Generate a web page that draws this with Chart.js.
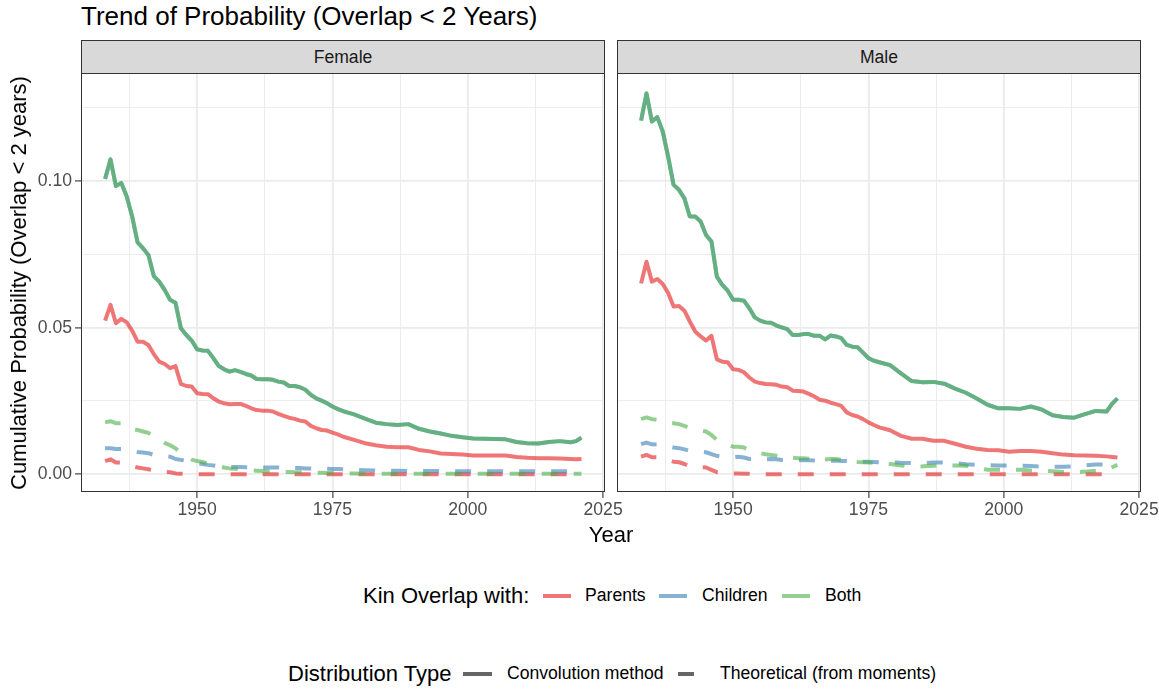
<!DOCTYPE html>
<html>
<head>
<meta charset="utf-8">
<script src="https://cdn.jsdelivr.net/npm/chart.js@4.4.1/dist/chart.umd.min.js"></script>
<style>
  html, body { margin: 0; padding: 0; background: #fff; }
  body { width: 1159px; height: 690px; position: relative; overflow: hidden;
         font-family: "Liberation Sans", Arial, sans-serif; color: #000; }
  .abs { position: absolute; white-space: nowrap; line-height: 1; }
  canvas { position: absolute; }
  .strip { position: absolute; box-sizing: border-box; background: #d9d9d9; border: 1px solid #333;
           top: 40px; height: 34px; font-size: 17.6px; color: #1a1a1a; text-align: center; line-height: 32px; }
  .key { position: absolute; height: 4px; }
</style>
</head>
<body>
<div class="abs" style="left:81px; top:3px; font-size:26px;">Trend of Probability (Overlap &lt; 2 Years)</div>
<div class="strip" style="left:81px; width:524px;">Female</div>
<div class="strip" style="left:617px; width:524px;">Male</div>
<canvas id="female" width="625" height="470" style="left:0; top:73px;"></canvas>
<canvas id="male" width="559" height="470" style="left:600px; top:73px;"></canvas>
<div class="abs" style="left:19px; top:283px; font-size:22px; transform:translate(-50%,-50%) rotate(-90deg);">Cumulative Probability (Overlap &lt; 2 years)</div>
<div class="abs" style="left:611px; top:524px; font-size:22px; transform:translateX(-50%);">Year</div>

<div class="abs" style="left:363px; top:585px; font-size:22px;">Kin Overlap with:</div>
<div class="key" style="left:543px; top:594px; width:28px; background:rgba(228,26,28,0.6);"></div>
<div class="abs" style="left:585px; top:587px; font-size:17.6px;">Parents</div>
<div class="key" style="left:659px; top:594px; width:28px; background:rgba(55,126,184,0.6);"></div>
<div class="abs" style="left:702px; top:587px; font-size:17.6px;">Children</div>
<div class="key" style="left:782px; top:594px; width:28px; background:rgba(77,175,74,0.6);"></div>
<div class="abs" style="left:825px; top:587px; font-size:17.6px;">Both</div>

<div class="abs" style="left:288px; top:663px; font-size:22px;">Distribution Type</div>
<div class="key" style="left:463px; top:672px; width:29px; background:rgba(0,0,0,0.6);"></div>
<div class="abs" style="left:507px; top:665px; font-size:17.6px;">Convolution method</div>
<div class="key" style="left:678px; top:672px; width:16px; background:rgba(0,0,0,0.6);"></div>
<div class="abs" style="left:720px; top:665px; font-size:17.6px;">Theoretical (from moments)</div>

<script>
// birth cohorts (annual to 1977, then every other year)
const years = [
  1933, 1934, 1935, 1936, 1937, 1938, 1939, 1940, 1941, 1942,
  1943, 1944, 1945, 1946, 1947, 1948, 1949, 1950, 1951, 1952,
  1953, 1954, 1955, 1956, 1957, 1958, 1959, 1960, 1961, 1962,
  1963, 1964, 1965, 1966, 1967, 1968, 1969, 1970, 1971, 1972,
  1973, 1974, 1975, 1976, 1977,
  1979, 1981, 1983, 1985, 1987, 1989, 1991, 1993, 1995, 1997, 1999,
  2001, 2003, 2005, 2007, 2009, 2011, 2013, 2015, 2017, 2019, 2020, 2021
];

// ---- Female ----
const femaleParentsConv = [
  .0524, .0578, .0515, .0530, .0518, .0490, .0452, .0452, .0441, .0410,
  .0384, .0376, .0362, .0369, .0308, .0301, .0299, .0276, .0274, .0273,
  .0259, .0248, .0242, .0239, .0240, .0240, .0233, .0225, .0219, .0217,
  .0217, .0214, .0206, .0199, .0193, .0189, .0183, .0180, .0165, .0157,
  .0151, .0149, .0142, .0136, .0128,
  .0117, .0106, .0099, .0094, .0092, .0092, .0083, .0078, .0071, .0069, .0067,
  .0064, .0064, .0064, .0064, .0059, .0056, .0055, .0055, .0054, .0052, .0051, .0052
];
// children line sits exactly under the "both" line in the source
const femaleChildrenConv = [
  .1007, .1074, .0983, .0993, .0947, .0879, .0791, .0771, .0748, .0676,
  .0657, .0629, .0595, .0585, .0498, .0475, .0456, .0426, .0422, .0421,
  .0396, .0369, .0358, .0350, .0355, .0349, .0342, .0337, .0325, .0324,
  .0324, .0322, .0316, .0313, .0301, .0301, .0297, .0288, .0271, .0259,
  .0251, .0242, .0231, .0222, .0215,
  .0204, .0190, .0176, .0171, .0168, .0171, .0155, .0146, .0139, .0131, .0126,
  .0122, .0121, .0120, .0119, .0110, .0106, .0105, .0110, .0113, .0109, .0113, .0125
];
const femaleBothConv = [
  .1007, .1074, .0983, .0993, .0947, .0879, .0791, .0771, .0748, .0676,
  .0657, .0629, .0595, .0585, .0498, .0475, .0456, .0426, .0422, .0421,
  .0396, .0369, .0358, .0350, .0355, .0349, .0342, .0337, .0325, .0324,
  .0324, .0322, .0316, .0313, .0301, .0301, .0297, .0288, .0271, .0259,
  .0251, .0242, .0231, .0222, .0215,
  .0204, .0190, .0176, .0171, .0168, .0171, .0155, .0146, .0139, .0131, .0126,
  .0122, .0121, .0120, .0119, .0110, .0106, .0105, .0110, .0113, .0109, .0113, .0125
];
const femaleParentsTheo = [
  .0045, .0051, .0040, .0040, .0034, .0028, .0023, .0020, .0017, .0013,
  .0010, .0008, .0007, .0003, .0002, .0001, 0, 0, 0, 0,
  0, 0, 0, 0, 0, 0, 0, 0, 0, 0,
  0, 0, 0, 0, 0, 0, 0, 0, 0, 0,
  0, 0, 0, 0, 0,
  0, 0, 0, 0, 0, 0, 0, 0, 0, 0, 0,
  0, 0, 0, 0, 0, 0, 0, 0, 0, 0, 0, 0
];
const femaleChildrenTheo = [
  .0089, .0089, .0086, .0086, .0083, .0080, .0076, .0074, .0072, .0066,
  .0064, .0062, .0060, .0052, .0049, .0045, .0042, .0038, .0035, .0032,
  .0030, .0027, .0026, .0025, .0025, .0025, .0024, .0023, .0023, .0023,
  .0023, .0023, .0023, .0022, .0022, .0021, .0021, .0020, .0020, .0020,
  .0019, .0019, .0018, .0018, .0017,
  .0015, .0014, .0013, .0012, .0012, .0011, .0011, .0011, .0011, .0011, .0010,
  .0010, .0010, .0010, .0010, .0010, .0010, .0010, .0010, .0010, .0011, .0012, .0016
];
const femaleBothTheo = [
  .0177, .0181, .0174, .0174, .0163, .0155, .0151, .0146, .0141, .0129,
  .0118, .0107, .0099, .0089, .0072, .0060, .0050, .0045, .0042, .0036,
  .0031, .0027, .0023, .0020, .0019, .0017, .0015, .0013, .0012, .0011,
  .0010, .0009, .0009, .0008, .0008, .0007, .0007, .0006, .0006, .0005,
  .0005, .0004, .0004, .0004, .0003,
  .0003, .0002, .0002, .0002, .0002, .0002, .0002, .0002, .0002, .0002, .0002,
  .0002, .0002, .0002, .0002, .0002, .0002, .0002, .0002, .0002, .0002, .0002, .0002
];

// ---- Male ----
const maleParentsConv = [
  .0651, .0725, .0657, .0666, .0649, .0618, .0572, .0574, .0558, .0521,
  .0487, .0470, .0456, .0472, .0392, .0384, .0382, .0358, .0356, .0348,
  .0330, .0316, .0311, .0308, .0307, .0305, .0299, .0297, .0285, .0284,
  .0282, .0274, .0265, .0254, .0251, .0244, .0239, .0233, .0211, .0202,
  .0197, .0188, .0177, .0168, .0160,
  .0150, .0131, .0121, .0121, .0114, .0114, .0104, .0094, .0087, .0083, .0082,
  .0077, .0079, .0079, .0077, .0072, .0067, .0065, .0064, .0063, .0061, .0059, .0057
];
const maleChildrenConv = [
  .1206, .1299, .1203, .1218, .1169, .1083, .0987, .0970, .0941, .0879,
  .0879, .0862, .0816, .0794, .0674, .0646, .0626, .0595, .0595, .0592,
  .0566, .0535, .0524, .0518, .0517, .0507, .0501, .0495, .0475, .0475,
  .0478, .0478, .0472, .0472, .0460, .0473, .0470, .0464, .0441, .0435,
  .0433, .0415, .0396, .0387, .0382,
  .0372, .0344, .0318, .0314, .0315, .0309, .0292, .0278, .0258, .0237, .0225,
  .0225, .0223, .0231, .0221, .0201, .0195, .0193, .0205, .0216, .0214, .0240, .0259
];
const maleBothConv = [
  .1206, .1299, .1203, .1218, .1169, .1083, .0987, .0970, .0941, .0879,
  .0879, .0862, .0816, .0794, .0674, .0646, .0626, .0595, .0595, .0592,
  .0566, .0535, .0524, .0518, .0517, .0507, .0501, .0495, .0475, .0475,
  .0478, .0478, .0472, .0472, .0460, .0473, .0470, .0464, .0441, .0435,
  .0433, .0415, .0396, .0387, .0382,
  .0372, .0344, .0318, .0314, .0315, .0309, .0292, .0278, .0258, .0237, .0225,
  .0225, .0223, .0231, .0221, .0201, .0195, .0193, .0205, .0216, .0214, .0240, .0259
];
const maleParentsTheo = [
  .0060, .0066, .0058, .0058, .0054, .0049, .0043, .0041, .0035, .0026,
  .0024, .0024, .0023, .0015, .0007, .0005, .0004, .0003, .0003, .0002,
  .0002, .0001, 0, 0, 0, 0, 0, 0, 0, 0,
  0, 0, 0, 0, 0, 0, 0, 0, 0, 0,
  0, 0, 0, 0, 0,
  0, 0, 0, 0, 0, 0, 0, 0, 0, 0, 0,
  0, 0, 0, 0, 0, 0, 0, 0, 0, 0, 0, 0
];
const maleChildrenTheo = [
  .0103, .0108, .0102, .0101, .0098, .0095, .0091, .0089, .0085, .0080,
  .0078, .0077, .0075, .0069, .0063, .0060, .0059, .0058, .0060, .0057,
  .0052, .0051, .0051, .0051, .0052, .0051, .0049, .0049, .0048, .0048,
  .0049, .0048, .0047, .0046, .0046, .0046, .0047, .0045, .0045, .0043,
  .0043, .0043, .0043, .0042, .0041,
  .0041, .0039, .0038, .0038, .0040, .0040, .0038, .0034, .0032, .0031, .0030,
  .0030, .0029, .0028, .0026, .0026, .0026, .0027, .0030, .0033, .0034, .0036, .0040
];
const maleBothTheo = [
  .0188, .0194, .0188, .0186, .0181, .0177, .0174, .0171, .0165, .0157,
  .0152, .0149, .0146, .0134, .0117, .0108, .0101, .0094, .0094, .0091,
  .0081, .0076, .0072, .0068, .0066, .0063, .0059, .0057, .0056, .0055,
  .0055, .0053, .0050, .0049, .0050, .0052, .0052, .0049, .0046, .0044,
  .0042, .0041, .0040, .0039, .0038,
  .0035, .0030, .0026, .0027, .0029, .0031, .0030, .0029, .0024, .0015, .0015,
  .0015, .0015, .0013, .0012, .0010, .0008, .0007, .0009, .0012, .0017, .0024, .0032
];

// axis ticks (major + minor grid)
const xGrid = [1937.5, 1950, 1962.5, 1975, 1987.5, 2000, 2012.5, 2025];
const yGrid = [0, 0.025, 0.05, 0.075, 0.1, 0.125];

const colors = {
    parents: 'rgba(228,26,28,0.6)',
    children: 'rgba(55,126,184,0.6)',
    both: 'rgba(77,175,74,0.6)'
};
const FONT = '"Liberation Sans", Arial, sans-serif';
Chart.defaults.font.family = FONT;

function lineSet(vals, color, dashed, order) {
    return {
        data: years.map((yr, i) => ({ x: yr, y: vals[i] })),
        borderColor: color,
        borderWidth: 4,
        borderDash: dashed ? [16, 16] : [],
        borderCapStyle: 'butt',
        borderJoinStyle: 'round',
        pointRadius: 0,
        fill: false,
        tension: 0,
        order: order
    };
}

const isMajorX = v => v % 25 === 0;
const isMajorY = v => Math.abs(v * 20 - Math.round(v * 20)) < 1e-6;

const panelBorder = {
    id: 'panelBorder',
    afterDraw(chart) {
        const a = chart.chartArea, c = chart.ctx;
        c.save();
        c.strokeStyle = '#333333';
        c.lineWidth = 1;
        c.strokeRect(a.left + 0.5, a.top + 0.5, a.right - a.left - 1, a.bottom - a.top - 1);
        c.restore();
    }
};

function makePanel(id, d, showY, yWidth, padRight) {
    new Chart(document.getElementById(id), {
        type: 'line',
        data: {
            datasets: [
                lineSet(d.parentsTheo, colors.parents, true, 6),
                lineSet(d.childrenTheo, colors.children, true, 5),
                lineSet(d.bothTheo, colors.both, true, 4),
                lineSet(d.parentsConv, colors.parents, false, 3),
                lineSet(d.childrenConv, colors.children, false, 2),
                lineSet(d.bothConv, colors.both, false, 1)
            ]
        },
        options: {
            responsive: false,
            animation: false,
            devicePixelRatio: 1,
            layout: { padding: { left: 0, right: padRight, top: 0, bottom: 0 } },
            plugins: { legend: { display: false }, tooltip: { enabled: false } },
            scales: {
                x: {
                    type: 'linear',
                    min: 1928.55,
                    max: 2025.35,
                    afterBuildTicks: s => { s.ticks = xGrid.map(v => ({ value: v })); },
                    afterFit: s => {
                        s.height = 51;
                        s.paddingLeft = 0; s.paddingRight = 0;
                        s.paddingTop = 0; s.paddingBottom = 0;
                    },
                    ticks: {
                        autoSkip: false,
                        maxRotation: 0,
                        padding: 2,
                        color: '#4d4d4d',
                        font: { size: 17.6 },
                        callback: v => isMajorX(v) ? String(v) : ''
                    },
                    grid: {
                        color: '#ebebeb',
                        lineWidth: c => (c.tick && isMajorX(c.tick.value)) ? 1.8 : 0.9,
                        tickColor: c => (c.tick && isMajorX(c.tick.value)) ? '#333333' : 'rgba(0,0,0,0)',
                        tickLength: 6,
                        tickWidth: 1.1
                    },
                    border: { display: false }
                },
                y: {
                    min: -0.00605,
                    max: 0.13685,
                    afterBuildTicks: s => { s.ticks = yGrid.map(v => ({ value: v })); },
                    afterFit: s => {
                        s.width = yWidth;
                        s.paddingTop = 0; s.paddingBottom = 0;
                        s.paddingLeft = 0; s.paddingRight = 0;
                    },
                    ticks: {
                        display: showY,
                        padding: 3,
                        color: '#4d4d4d',
                        font: { size: 17.6 },
                        callback: v => isMajorY(v) ? v.toFixed(2) : ''
                    },
                    grid: {
                        color: '#ebebeb',
                        lineWidth: c => (c.tick && isMajorY(c.tick.value)) ? 1.8 : 0.9,
                        drawTicks: showY,
                        tickColor: c => (c.tick && isMajorY(c.tick.value)) ? '#333333' : 'rgba(0,0,0,0)',
                        tickLength: 6,
                        tickWidth: 1.1
                    },
                    border: { display: false }
                }
            }
        },
        plugins: [panelBorder]
    });
}

makePanel('female', {
    parentsConv: femaleParentsConv, childrenConv: femaleChildrenConv, bothConv: femaleBothConv,
    parentsTheo: femaleParentsTheo, childrenTheo: femaleChildrenTheo, bothTheo: femaleBothTheo
}, true, 81, 20);

makePanel('male', {
    parentsConv: maleParentsConv, childrenConv: maleChildrenConv, bothConv: maleBothConv,
    parentsTheo: maleParentsTheo, childrenTheo: maleChildrenTheo, bothTheo: maleBothTheo
}, false, 17, 18);
</script>
</body>
</html>
